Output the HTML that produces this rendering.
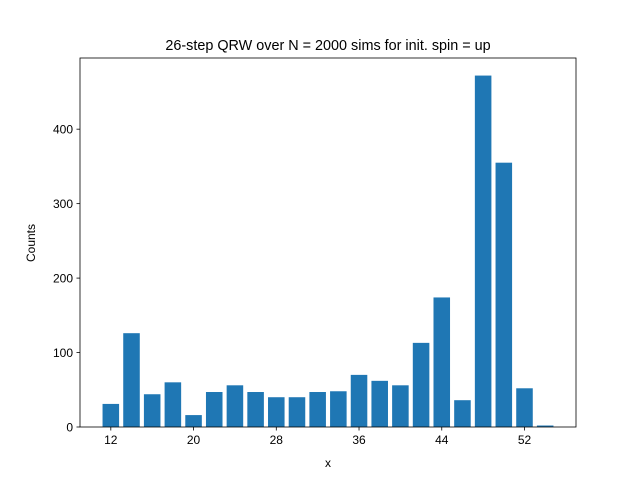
<!DOCTYPE html>
<html><head><meta charset="utf-8"><style>
body{margin:0;background:#fff;}
svg{display:block;font-family:"Liberation Sans","DejaVu Sans",sans-serif;}
</style></head><body>
<svg id="chart" width="640" height="480">
<rect x="0" y="0" width="640" height="480" fill="#fff"/>
<text x="328" y="50" text-anchor="middle" font-size="14.4">26-step QRW over N = 2000 sims for init. spin = up</text>
<g id="bars"></g>
<rect x="80" y="58" width="496" height="369" fill="none" stroke="#000" stroke-width="0.8"/>
<g id="xt"></g>
<g id="yt"></g>
<text x="328" y="467" text-anchor="middle" font-size="12">x</text>
<text transform="translate(35,243) rotate(-90)" text-anchor="middle" font-size="12">Counts</text>
</svg>
<script>
const categories=[12,14,16,18,20,22,24,26,28,30,32,34,36,38,40,42,44,46,48,50,52,54];
const counts=[31,126,44,60,16,47,56,47,40,40,47,48,70,62,56,113,174,36,472,355,52,2];
const xTicks=[12,20,28,36,44,52];
const yTicks=[0,100,200,300,400];
const NS="http://www.w3.org/2000/svg";
const L=80,R=576,T=58,B=427;
const xmin=9.02,xmax=56.98;
const ymax=Math.max(...counts)*1.05;
const sx=v=>L+(v-xmin)/(xmax-xmin)*(R-L);
const sy=v=>B-v/ymax*(B-T);
function mk(tag,attrs,parent){const e=document.createElementNS(NS,tag);for(const k in attrs)e.setAttribute(k,attrs[k]);parent.appendChild(e);return e;}
const bars=document.getElementById('bars');
categories.forEach((c,i)=>{
 const x0=sx(c-0.8),x1=sx(c+0.8);
 const r=mk('rect',{x:x0,y:sy(counts[i]),width:x1-x0,height:B-sy(counts[i]),fill:'#1f77b4'},bars);
 
 
});
const xt=document.getElementById('xt');
xTicks.forEach(t=>{
 mk('line',{x1:sx(t),x2:sx(t),y1:B,y2:B+3.5,stroke:'#000','stroke-width':0.8},xt);
 const tx=mk('text',{x:sx(t),y:B+17,'text-anchor':'middle','font-size':12},xt);
 tx.textContent=t;
 
 
});
const yt=document.getElementById('yt');
yTicks.forEach(t=>{
 mk('line',{x1:L-3.5,x2:L,y1:sy(t),y2:sy(t),stroke:'#000','stroke-width':0.8},yt);
 const tx=mk('text',{x:L-7,y:sy(t)+4.5,'text-anchor':'end','font-size':12},yt);
 tx.textContent=t;
 
 
});
</script>
</body></html>
